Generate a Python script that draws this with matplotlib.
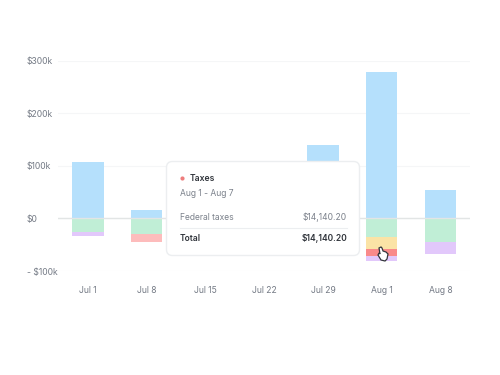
import matplotlib
matplotlib.use("Agg")
import numpy as np
import matplotlib.pyplot as plt
from matplotlib.patches import FancyBboxPatch, Polygon

plt.rcParams['font.family'] = ['Inter', 'DejaVu Sans']

# Weekly values in $k
weeks = ['Jul 1', 'Jul 8', 'Jul 15', 'Jul 22', 'Jul 29', 'Aug 1', 'Aug 8']
income = [108, 15, 0, 0, 139, 278, 53]
expense_green = [-25, -30, 0, 0, 0, -36, -44]
expense_yellow = [0, 0, 0, 0, 0, -23, 0]
expense_red = [0, -15, 0, 0, 0, -13, 0]
expense_purple = [-9, 0, 0, 0, 0, -9, -23]

y_ticks = [-100, 0, 100, 200, 300]
y_labels = ['- $100k', '$0', '$100k', '$200k', '$300k']

W, H = 500, 375
fig = plt.figure(figsize=(5, 3.75), dpi=100, facecolor='white')
ax = fig.add_axes([58 / W, 1 - 271 / H, 412 / W, 210.5 / H])

x = np.arange(len(weeks))
bar_w = 0.53
ax.bar(x, income, bar_w, color='#b5e0fc', zorder=2)

# stack the negative parts downward
bottom = np.zeros(len(weeks))
for vals, col in [(expense_green, '#c0eed6'), (expense_yellow, '#fbe3a6'),
                  (expense_red, '#f98a8a'), (expense_purple, '#e2c8fb')]:
    ax.bar(x, vals, bar_w, bottom=bottom, color=col, zorder=2)
    bottom += np.array(vals)
# Jul 8 has a paler red than Aug 1
ax.patches[len(weeks) * 3 + 1].set_facecolor('#fdbcbc')

ax.set_xlim(-0.51, 6.5)
ax.set_ylim(-100, 300)
ax.set_yticks(y_ticks)
ax.set_yticklabels(y_labels)
ax.set_xticks(x)
ax.set_xticklabels(weeks)
ax.tick_params(length=0, labelsize=6.2, labelcolor='#747a85')
ax.tick_params(axis='x', pad=11)
ax.tick_params(axis='y', pad=0)
for s in ax.spines.values():
    s.set_visible(False)
ax.grid(axis='y', color='#f5f6f7', lw=0.8, zorder=0)
ax.axhline(0, color='#e2e5e5', lw=1.0, zorder=3)
for lab in ax.get_yticklabels():
    lab.set_ha('left')
    lab.set_x(-31 / 412)

# overlay in pixel coordinates for the tooltip
ov = fig.add_axes([0, 0, 1, 1], facecolor='none')
ov.set_xlim(0, W)
ov.set_ylim(H, 0)
ov.axis('off')

ov.add_patch(FancyBboxPatch((166.5, 161.5), 193, 94, boxstyle='round,pad=0,rounding_size=6',
                            fc='white', ec='#eceef0', lw=1, zorder=5))
ov.scatter([182], [178], s=9, color='#ee7d7d', zorder=6, linewidths=0)
ov.text(190, 178.8, 'Taxes', fontsize=6.2, fontweight='semibold', color='#30343b', va='center', zorder=6)
ov.text(180, 193.8, 'Aug 1 - Aug 7', fontsize=6.1, color='#7a808a', va='center', zorder=6)
ov.text(180, 217.5, 'Federal taxes', fontsize=6.1, color='#7a808a', va='center', zorder=6)
ov.text(347, 217.5, '$14,140.20', fontsize=6.1, color='#7a808a', va='center', ha='right', zorder=6)
ov.plot([180, 347], [227.5, 227.5], color='#eceef0', lw=0.8, zorder=6)
ov.text(180, 238.8, 'Total', fontsize=6.1, fontweight='semibold', color='#30343b', va='center', zorder=6)
ov.text(347, 238.8, '$14,140.20', fontsize=6.1, fontweight='semibold', color='#30343b', va='center', ha='right', zorder=6)

# hand cursor over the Aug 1 bar
hand = [(379, 248), (381, 247), (382, 248), (383, 251), (386, 252), (388, 254),
        (387, 259), (385, 261), (381, 260), (378, 255), (379, 253), (380, 254)]
ov.add_patch(Polygon(hand, closed=True, fc='white', ec='#33363c', lw=0.9, zorder=7))

fig.savefig('out.png', dpi=100)
